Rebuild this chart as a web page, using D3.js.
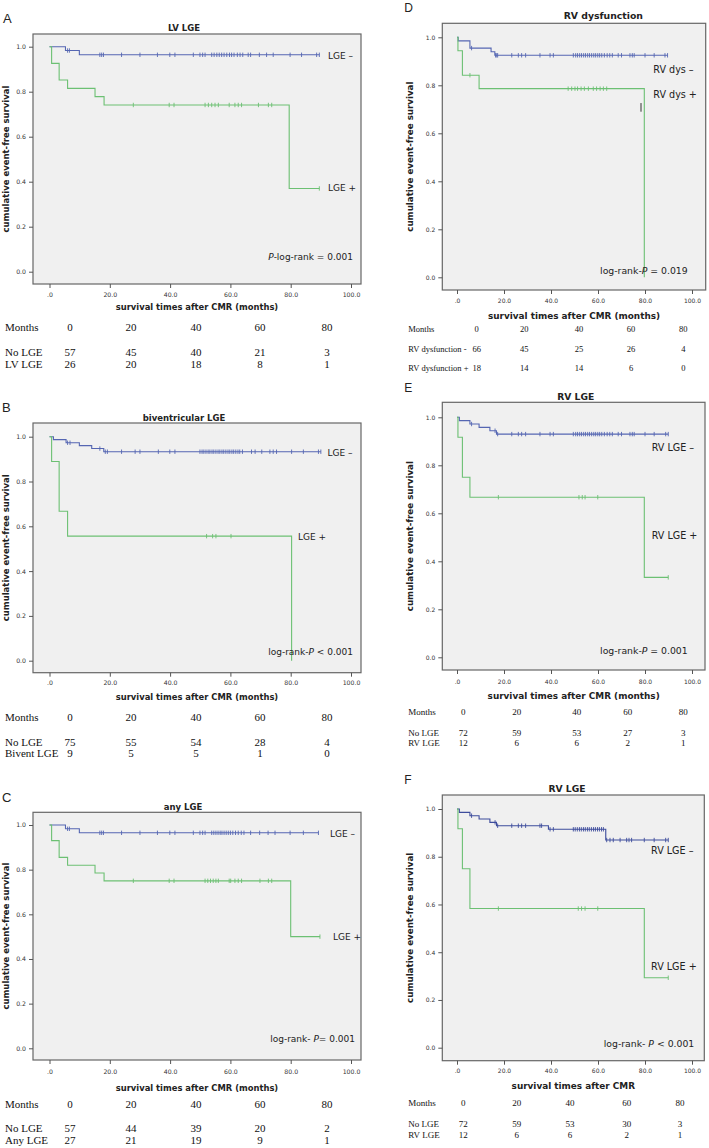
<!DOCTYPE html>
<html><head><meta charset="utf-8">
<script src="https://cdn.jsdelivr.net/npm/d3@7"></script>
<style>body{margin:0;background:#fff}svg{display:block}</style>
</head><body><svg id="c" width="709" height="1148"></svg>
<script>
// ---------- shared ticks ----------
const riskMonths = [0, 20, 40, 60, 80];
const xTickValues = [0, 20, 40, 60, 80, 100];
const yTickValues = [0, 0.2, 0.4, 0.6, 0.8, 1.0];

// ---------- Panel A : LV LGE ----------
const A_noTime = [0, 5.3, 9.9, 89.5];
const A_noSurv = [1, 0.983, 0.964, 0.964];
const A_noCens = [6.0, 6.6, 16.7, 17.3, 17.9, 23.9, 30.0, 35.8, 39.9, 41.6, 47.7, 49.9, 50.8, 51.6, 53.8, 54.6, 55.5, 56.3, 57.1, 57.9, 58.8, 59.7, 60.4, 61.2, 62.3, 63.2, 64.1, 65.9, 66.7, 69.6, 72.0, 74.2, 79.8, 83.6, 88.6, 89.5];
const A_yesTime = [0, 0.7, 3.2, 6.0, 15.1, 18.1, 79.5, 89.5];
const A_yesSurv = [1, 0.926, 0.852, 0.815, 0.778, 0.741, 0.370, 0.370];
const A_yesCens = [27.8, 39.7, 41.3, 51.6, 52.7, 53.8, 54.9, 56.0, 59.6, 61.5, 62.6, 63.7, 69.3, 72.6, 73.7, 89.5];
const A_riskLabels = ["No LGE", "LV LGE"];
const A_riskNo = [57, 45, 40, 21, 3];
const A_riskYes = [26, 20, 18, 8, 1];

// ---------- Panel B : biventricular LGE ----------
const B_noTime = [0, 1.3, 5.5, 9.9, 14.0, 18.0, 90.0];
const B_noSurv = [1, 0.987, 0.973, 0.960, 0.947, 0.933, 0.933];
const B_noCens = [6.0, 6.8, 16.7, 18.5, 19.2, 23.9, 28.4, 30.0, 36.1, 39.9, 41.6, 49.9, 50.6, 51.2, 51.9, 52.6, 53.2, 53.9, 54.5, 55.2, 55.9, 56.5, 57.2, 57.8, 58.5, 59.2, 59.8, 60.5, 61.1, 61.8, 62.5, 63.1, 64.0, 67.0, 68.2, 70.4, 73.1, 74.2, 75.3, 80.3, 84.2, 89.2, 90.0];
const B_yesTime = [0, 0.7, 3.2, 6.0, 80.3];
const B_yesSurv = [1, 0.889, 0.667, 0.556, 0];
const B_yesCens = [52.1, 54.1, 55.2, 60.2];
const B_riskLabels = ["No LGE", "Bivent LGE"];
const B_riskNo = [75, 55, 54, 28, 4];
const B_riskYes = [9, 5, 5, 1, 0];

// ---------- Panel C : any LGE ----------
const C_noTime = [0, 5.3, 9.9, 89.2];
const C_noSurv = [1, 0.983, 0.965, 0.965];
const C_noCens = [6.0, 6.6, 16.7, 17.3, 17.9, 23.9, 30.0, 35.8, 39.9, 41.6, 47.7, 49.9, 50.8, 51.6, 53.8, 54.5, 55.2, 55.9, 56.6, 57.2, 57.9, 58.6, 59.3, 60.0, 60.8, 61.7, 62.6, 63.6, 64.5, 66.7, 69.7, 72.5, 74.8, 79.8, 84.2, 89.2];
const C_yesTime = [0, 0.7, 3.2, 6.0, 15.1, 18.1, 80.0, 89.7];
const C_yesSurv = [1, 0.930, 0.855, 0.820, 0.785, 0.750, 0.500, 0.500];
const C_yesCens = [27.8, 39.7, 41.3, 51.6, 52.5, 53.4, 54.3, 55.2, 56.0, 59.6, 60.1, 61.5, 62.6, 63.7, 69.8, 72.6, 73.7, 89.7];
const C_riskLabels = ["No LGE", "Any LGE"];
const C_riskNo = [57, 44, 39, 20, 2];
const C_riskYes = [27, 21, 19, 9, 1];

// ---------- Panel D : RV dysfunction ----------
const D_negTime = [0, 0.5, 5.5, 14.5, 16.1, 89.6];
const D_negSurv = [1, 0.985, 0.955, 0.940, 0.925, 0.925];
const D_negCens = [6.2, 16.4, 16.9, 17.3, 23.3, 26.1, 27.5, 29.2, 35.3, 39.6, 41.0, 49.5, 50.5, 51.3, 52.2, 53.0, 53.9, 54.7, 55.6, 56.4, 57.3, 58.2, 59.0, 59.9, 60.7, 61.6, 62.7, 63.9, 65.0, 66.1, 68.6, 70.0, 73.6, 74.6, 75.4, 80.0, 83.9, 88.5, 89.6];
const D_posTime = [0, 0.4, 2.3, 9.4, 79.7];
const D_posSurv = [1, 0.944, 0.842, 0.786, 0];
const D_posCens = [5.5, 47.3, 48.8, 50.2, 51.3, 52.8, 54.2, 55.9, 58.0, 59.4, 60.9, 62.3, 63.7];
const D_strayMark = [78.3, 0.69, 0.726];   // stray vertical mark in the original figure: time, surv from, surv to
const D_riskLabels = ["RV dysfunction -", "RV dysfunction +"];
const D_riskNeg = [66, 45, 25, 26, 4];
const D_riskPos = [18, 14, 14, 6, 0];

// ---------- Panel E : RV LGE ----------
const E_noTime = [0, 1.0, 5.5, 9.4, 14.0, 16.8, 89.9];
const E_noSurv = [1, 0.986, 0.972, 0.958, 0.944, 0.930, 0.930];
const E_noCens = [6.2, 16.2, 17.3, 23.3, 26.1, 27.5, 29.2, 35.3, 39.6, 41.0, 49.5, 50.5, 51.3, 52.2, 53.0, 53.9, 54.7, 55.6, 56.4, 57.3, 58.2, 59.0, 59.9, 60.7, 61.6, 62.7, 63.9, 65.0, 66.1, 68.6, 70.0, 73.6, 74.6, 75.4, 80.0, 83.9, 88.8, 89.9];
const E_yesTime = [0, 0.4, 2.3, 5.5, 79.7, 89.9];
const E_yesSurv = [1, 0.917, 0.750, 0.667, 0.333, 0.333];
const E_yesCens = [17.6, 51.9, 53.3, 54.5, 59.9, 89.9];
const E_riskLabels = ["No LGE", "RV LGE"];
const E_riskNo = [72, 59, 53, 27, 3];
const E_riskYes = [12, 6, 6, 2, 1];

// ---------- Panel F : RV LGE ----------
const F_noTime = [0, 1.0, 5.5, 9.4, 14.0, 16.8, 38.9, 63.3, 89.9];
const F_noSurv = [1, 0.986, 0.972, 0.958, 0.944, 0.930, 0.915, 0.870, 0.870];
const F_noCens = [6.2, 16.2, 17.3, 23.3, 26.1, 27.5, 29.2, 35.3, 36.0, 39.6, 41.0, 49.5, 50.3, 51.2, 52.1, 52.9, 53.8, 54.6, 55.5, 56.3, 57.2, 58.1, 58.9, 59.8, 60.6, 61.5, 62.3, 63.7, 65.1, 66.5, 69.4, 72.2, 73.2, 74.3, 79.7, 83.9, 88.8, 89.9];
const F_yesTime = [0, 0.4, 2.3, 5.5, 79.7, 89.9];
const F_yesSurv = [1, 0.917, 0.750, 0.583, 0.293, 0.293];
const F_yesCens = [17.6, 51.6, 53.0, 54.5, 59.9, 89.9];
const F_riskLabels = ["No LGE", "RV LGE"];
const F_riskNo = [72, 59, 53, 30, 3];
const F_riskYes = [12, 6, 6, 2, 1];

// ---------- styles ----------
const BLUE = "#5566b2", GREEN = "#6cc073";
const SANS = "DejaVu Sans, Verdana, sans-serif";
const SERIF = "Liberation Serif, Times New Roman, serif";

const yAxisTitle = "cumulative event-free survival";

// ---------- layout (positions only) ----------
const leftCols = [70, 131, 196, 260, 327];
const panels = [
  { letter: "A", letterXY: [3, 22.7], letterSize: 13, title: "LV LGE", titleXY: [184, 28], titleSize: 8.5,
    box: [33, 34, 361, 284], xr: [49.5, 351], yr: [271.7, 46.7], tickSize: 6.2, tickLabelY: 294,
    axisTitle: "survival times after CMR (months)", axisTitleY: 307, axisTitleSize: 8.4, yTitleX: 6, yTitleSize: 8.5, labelSize: 9,
    curves: [
      { t: A_noTime, s: A_noSurv, c: A_noCens, color: BLUE },
      { t: A_yesTime, s: A_yesSurv, c: A_yesCens, color: GREEN } ],
    labels: [ ["LGE \u2013", 328, 55.7], ["LGE +", 328, 188] ],
    pText: ["P", "-log-rank = 0.001", "pfirst"], pXY: [353, 256.7], pSize: 9,
    risk: { x: 5, cols: leftCols, size: 11, rowsY: [327, 352, 364], labels: A_riskLabels, rows: [A_riskNo, A_riskYes] } },
  { letter: "B", letterXY: [2, 411.7], letterSize: 13, title: "biventricular LGE", titleXY: [184, 418], titleSize: 8.5,
    box: [33, 423, 361, 672.7], xr: [49.5, 351], yr: [660.7, 436.7], tickSize: 6.2, tickLabelY: 683,
    axisTitle: "survival times after CMR (months)", axisTitleY: 696.7, axisTitleSize: 8.4, yTitleX: 6, yTitleSize: 8.5, labelSize: 9,
    curves: [
      { t: B_noTime, s: B_noSurv, c: B_noCens, color: BLUE },
      { t: B_yesTime, s: B_yesSurv, c: B_yesCens, color: GREEN } ],
    labels: [ ["LGE \u2013", 327.5, 452.7], ["LGE +", 298, 537.3] ],
    pText: ["log-rank-", "P", " < 0.001"], pXY: [353, 652.3], pSize: 9,
    risk: { x: 5, cols: leftCols, size: 11, rowsY: [716.7, 741.7, 753.3], labels: B_riskLabels, rows: [B_riskNo, B_riskYes] } },
  { letter: "C", letterXY: [2, 801.7], letterSize: 13, title: "any LGE", titleXY: [183, 806.7], titleSize: 8.5,
    box: [33, 812.3, 361, 1060], xr: [49.5, 351], yr: [1048.3, 825], tickSize: 6.2, tickLabelY: 1071,
    axisTitle: "survival times after CMR (months)", axisTitleY: 1087.5, axisTitleSize: 8.4, yTitleX: 6, yTitleSize: 8.5, labelSize: 9,
    curves: [
      { t: C_noTime, s: C_noSurv, c: C_noCens, color: BLUE },
      { t: C_yesTime, s: C_yesSurv, c: C_yesCens, color: GREEN } ],
    labels: [ ["LGE \u2013", 330, 834.3], ["LGE +", 333, 936.7] ],
    pText: ["log-rank- ", "P", "= 0.001"], pXY: [355, 1039.3], pSize: 9,
    risk: { x: 5, cols: leftCols, size: 11, rowsY: [1104, 1128, 1140], labels: C_riskLabels, rows: [C_riskNo, C_riskYes] } },
  { letter: "D", letterXY: [404.3, 11.7], letterSize: 12, title: "RV dysfunction", titleXY: [603.3, 15], titleSize: 9.3,
    box: [442.3, 23.3, 705.7, 290], xr: [457, 692], yr: [277.3, 37.3], tickSize: 6, tickLabelY: 300,
    axisTitle: "survival times after CMR (months)", axisTitleY: 316, axisTitleSize: 8.9, yTitleX: 410, yTitleSize: 8.7, labelSize: 9.6,
    curves: [
      { t: D_negTime, s: D_negSurv, c: D_negCens, color: BLUE },
      { t: D_posTime, s: D_posSurv, c: D_posCens, color: GREEN } ],
    stray: D_strayMark,
    labels: [ ["RV dys \u2013", 653.3, 69], ["RV dys +", 653.3, 94.3] ],
    pText: ["log-rank-", "P", " = 0.019"], pXY: [687.7, 270], pSize: 9.3,
    risk: { x: 408.3, cols: [476.7, 524.3, 579, 631, 683.3], size: 8.5, rowsY: [329.3, 349, 367.7], labels: D_riskLabels, rows: [D_riskNeg, D_riskPos] } },
  { letter: "E", letterXY: [404.3, 391.7], letterSize: 12, title: "RV LGE", titleXY: [575.7, 396.7], titleSize: 9.2,
    box: [442.3, 402.3, 705, 670], xr: [457, 692], yr: [657.3, 417.3], tickSize: 6, tickLabelY: 681.7,
    axisTitle: "survival times after CMR (months)", axisTitleY: 695.7, axisTitleSize: 8.9, yTitleX: 410, yTitleSize: 8.7, labelSize: 9.6,
    curves: [
      { t: E_noTime, s: E_noSurv, c: E_noCens, color: BLUE },
      { t: E_yesTime, s: E_yesSurv, c: E_yesCens, color: GREEN } ],
    labels: [ ["RV LGE \u2013", 651.7, 447.3], ["RV LGE +", 651.7, 535.7] ],
    pText: ["log-rank-", "P", " = 0.001"], pXY: [687.7, 650], pSize: 9.3,
    risk: { x: 408.3, cols: [463.3, 516.7, 576.7, 627.7, 683.3], size: 9, rowsY: [711.7, 732.7, 743.3], labels: E_riskLabels, rows: [E_riskNo, E_riskYes] } },
  { letter: "F", letterXY: [404.3, 784], letterSize: 12, title: "RV LGE", titleXY: [567, 788.3], titleSize: 9.2,
    box: [442.3, 795, 704.3, 1060.7], xr: [457, 692], yr: [1047.7, 809], tickSize: 6, tickLabelY: 1070.7,
    axisTitle: "survival times after CMR", axisTitleY: 1085.7, axisTitleSize: 8.9, yTitleX: 410, yTitleSize: 8.7, labelSize: 9.6,
    curves: [
      { t: F_noTime, s: F_noSurv, c: F_noCens, color: "#3d4c9c" },
      { t: F_yesTime, s: F_yesSurv, c: F_yesCens, color: GREEN } ],
    labels: [ ["RV LGE \u2013", 651, 850], ["RV LGE +", 651, 966.7] ],
    pText: ["log-rank- ", "P", " < 0.001"], pXY: [694.3, 1043.3], pSize: 9.3,
    risk: { x: 408.3, cols: [463.3, 516.7, 570, 626.7, 680], size: 9, rowsY: [1103.3, 1124, 1134.7], labels: F_riskLabels, rows: [F_riskNo, F_riskYes] } }
];

const svg = d3.select("#c");

function survAt(t, s, time) {
  let v = s[0];
  for (let i = 0; i < t.length; i++) { if (t[i] <= time) v = s[i]; }
  return v;
}
const xFmt = v => v === 0 ? ".0" : d3.format(".1f")(v);

panels.forEach(p => {
  const g = svg.append("g");
  const [bl, bt, br, bb] = p.box;
  const x = d3.scaleLinear().domain([0, 100]).range(p.xr);
  const y = d3.scaleLinear().domain([0, 1]).range(p.yr);

  g.append("text").attr("x", p.letterXY[0]).attr("y", p.letterXY[1])
    .attr("font-family", "Liberation Sans, Arial, sans-serif").attr("font-size", p.letterSize)
    .attr("fill", "#222").text(p.letter);

  g.append("text").attr("x", p.titleXY[0]).attr("y", p.titleXY[1]).attr("text-anchor", "middle")
    .attr("dominant-baseline", "central").attr("font-family", SANS).attr("font-weight", "bold")
    .attr("font-size", p.titleSize).attr("fill", "#222").text(p.title);

  g.append("rect").attr("x", bl).attr("y", bt).attr("width", br - bl).attr("height", bb - bt)
    .attr("fill", "#f0f0f0").attr("stroke", "#666").attr("stroke-width", 1.2);

  const yAx = d3.axisLeft(y).tickValues(yTickValues).tickFormat(d3.format(".1f")).tickSize(4).tickPadding(3);
  const ya = g.append("g").attr("transform", `translate(${bl},0)`).call(yAx);
  ya.select(".domain").remove();
  ya.selectAll("line").attr("stroke", "#555");
  ya.selectAll("text").attr("font-family", SANS).attr("font-size", p.tickSize).attr("fill", "#333");

  const xAx = d3.axisBottom(x).tickValues(xTickValues).tickFormat(xFmt).tickSize(4).tickPadding(0);
  const xa = g.append("g").attr("transform", `translate(0,${bb})`).call(xAx);
  xa.select(".domain").remove();
  xa.selectAll("line").attr("stroke", "#555");
  xa.selectAll("text").attr("y", p.tickLabelY - bb).attr("dy", null).attr("dominant-baseline", "central")
    .attr("font-family", SANS).attr("font-size", p.tickSize).attr("fill", "#333");

  g.append("text").attr("x", (bl + br) / 2).attr("y", p.axisTitleY).attr("text-anchor", "middle")
    .attr("dominant-baseline", "central").attr("font-family", SANS).attr("font-weight", "bold")
    .attr("font-size", p.axisTitleSize).attr("fill", "#222").text(p.axisTitle);
  g.append("text").attr("transform", `translate(${p.yTitleX},${(bt + bb) / 2}) rotate(-90)`)
    .attr("text-anchor", "middle").attr("dominant-baseline", "central").attr("font-family", SANS)
    .attr("font-weight", "bold").attr("font-size", p.yTitleSize).attr("fill", "#222").text(yAxisTitle);

  const line = d3.line().x(d => x(d[0])).y(d => y(d[1])).curve(d3.curveStepAfter);
  p.curves.forEach(cv => {
    const pts = cv.t.map((t, i) => [t, cv.s[i]]);
    g.append("path").attr("d", line(pts)).attr("fill", "none").attr("stroke", cv.color).attr("stroke-width", 1.1);
    g.selectAll(null).data(cv.c).enter().append("line")
      .attr("x1", d => x(d)).attr("x2", d => x(d))
      .attr("y1", d => y(survAt(cv.t, cv.s, d)) - 2.2).attr("y2", d => y(survAt(cv.t, cv.s, d)) + 2.2)
      .attr("stroke", cv.color).attr("stroke-width", 0.9);
  });
  if (p.stray) {
    g.append("line").attr("x1", x(p.stray[0])).attr("x2", x(p.stray[0]))
      .attr("y1", y(p.stray[1])).attr("y2", y(p.stray[2])).attr("stroke", "#333").attr("stroke-width", 1);
  }

  p.labels.forEach(l => {
    g.append("text").attr("x", l[1]).attr("y", l[2]).attr("dominant-baseline", "central")
      .attr("font-family", SANS).attr("font-size", p.labelSize).attr("fill", "#222").text(l[0]);
  });

  const pt = g.append("text").attr("x", p.pXY[0]).attr("y", p.pXY[1]).attr("text-anchor", "end")
    .attr("dominant-baseline", "central").attr("font-family", SANS).attr("font-size", p.pSize).attr("fill", "#222");
  if (p.pText[2] === "pfirst") {
    pt.append("tspan").attr("font-style", "italic").text(p.pText[0]);
    pt.append("tspan").text(p.pText[1]);
  } else {
    pt.append("tspan").text(p.pText[0]);
    pt.append("tspan").attr("font-style", "italic").text(p.pText[1]);
    pt.append("tspan").text(p.pText[2]);
  }

  const r = p.risk;
  const rt = g.append("g").attr("font-family", SERIF).attr("font-size", r.size).attr("fill", "#111");
  rt.append("text").attr("x", r.x).attr("y", r.rowsY[0]).attr("dominant-baseline", "central").text("Months");
  rt.selectAll(null).data(riskMonths).enter().append("text")
    .attr("x", (d, i) => r.cols[i]).attr("y", r.rowsY[0]).attr("text-anchor", "middle")
    .attr("dominant-baseline", "central").text(d => d);
  r.rows.forEach((row, k) => {
    rt.append("text").attr("x", r.x).attr("y", r.rowsY[k + 1]).attr("dominant-baseline", "central").text(r.labels[k]);
    rt.selectAll(null).data(row).enter().append("text")
      .attr("x", (d, i) => r.cols[i]).attr("y", r.rowsY[k + 1]).attr("text-anchor", "middle")
      .attr("dominant-baseline", "central").text(d => d);
  });
});
</script>
</body></html>
